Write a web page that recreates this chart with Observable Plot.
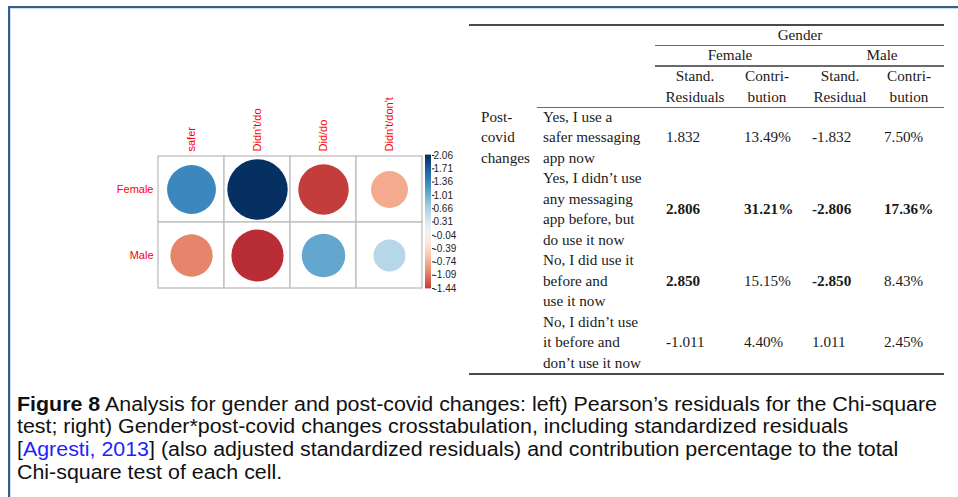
<!DOCTYPE html>
<html>
<head>
<meta charset="utf-8">
<script src="https://cdn.jsdelivr.net/npm/d3@7"></script>
<script src="https://cdn.jsdelivr.net/npm/@observablehq/plot@0.6"></script>
<style>
  html, body { margin: 0; padding: 0; background: #fff; }
  #page { position: relative; width: 958px; height: 497px; overflow: hidden; background: #fff; }
  .frame-top { position: absolute; left: 8px; top: 6px; width: 960px; height: 2px; background: #3b5c88; }
  .frame-top2 { position: absolute; left: 10px; top: 8px; width: 960px; height: 1px; background: #cfdcec; }
  .frame-left { position: absolute; left: 8px; top: 6px; width: 2px; height: 500px; background: #3b5c88; }
  .frame-left2 { position: absolute; left: 10px; top: 8px; width: 1px; height: 500px; background: #cfdcec; }
  .abs { position: absolute; white-space: nowrap; }
  .tbl { font-family: "Liberation Serif", "Times New Roman", serif; font-size: 15.2px; color: #1a1a1a; }
  .rule { position: absolute; }
  .cap { font-family: "Liberation Sans", Arial, sans-serif; color: #111; font-size: 19.5px; transform-origin: 0 50%; }
  .plotsvg { position: absolute; left: 0; top: 0; }
</style>
</head>
<body>
<div id="page">
  <div class="frame-top"></div><div class="frame-top2"></div>
  <div class="frame-left"></div><div class="frame-left2"></div>
</div>
<script>
// ---------- Corrplot data (Pearson's residuals) ----------
const columns = ["safer", "Didn't/do", "Did/do", "Didn't/don't"];
const rows = ["Female", "Male"];
const femaleResiduals = [1.35, 2.06, -1.44, -0.77];
const maleResiduals = [-1.01, -1.54, 1.07, 0.58];
const colorbarTicks = [2.06, 1.71, 1.36, 1.01, 0.66, 0.31, -0.04, -0.39, -0.74, -1.09, -1.44];

// ---------- Table data ----------
const rowHeader = ["Post-", "covid", "changes"];
const changeLabels = [
  ["Yes, I use a", "safer messaging", "app now"],
  ["Yes, I didn\u2019t use", "any messaging", "app before, but", "do use it now"],
  ["No, I did use it", "before and", "use it now"],
  ["No, I didn\u2019t use", "it before and", "don\u2019t use it now"]
];
const femaleStdResid = ["1.832", "2.806", "2.850", "-1.011"];
const femaleContribution = ["13.49%", "31.21%", "15.15%", "4.40%"];
const maleStdResid = ["-1.832", "-2.806", "-2.850", "1.011"];
const maleContribution = ["7.50%", "17.36%", "8.43%", "2.45%"];
const boldStdResid = [false, true, true, false];
const boldContribution = [false, true, false, false];
const genderHeader = "Gender";
const genderGroups = ["Female", "Male"];
const subHeaders = [["Stand.", "Residuals"], ["Contri-", "bution"], ["Stand.", "Residual"], ["Contri-", "bution"]];

// ---------- Caption ----------
const captionLines = [
  [{t: "Figure 8", b: true}, {t: " Analysis for gender and post-covid changes: left) Pearson\u2019s residuals for the Chi-square"}],
  [{t: "test; right) Gender*post-covid changes crosstabulation, including standardized residuals"}],
  [{t: "["}, {t: "Agresti, 2013", c: "#1f1fff"}, {t: "] (also adjusted standardized residuals) and contribution percentage to the total"}],
  [{t: "Chi-square test of each cell."}]
];

const page = document.getElementById("page");

// ---------- Corrplot ----------
const cells = [];
rows.forEach((r, i) => {
  const vals = i === 0 ? femaleResiduals : maleResiduals;
  columns.forEach((c, j) => cells.push({row: r, col: c, value: vals[j]}));
});

const colorScale = {type: "linear", domain: [-2.06, 2.06], scheme: "RdBu"};

const corr = Plot.plot({
  width: 440, height: 300,
  marginLeft: 158, marginRight: 18, marginTop: 155, marginBottom: 12,
  style: {background: "transparent", fontFamily: "Liberation Sans, Arial, sans-serif"},
  x: {domain: columns, padding: 0},
  y: {domain: rows, padding: 0},
  r: {type: "sqrt", domain: [0, 2.06], range: [0, 30.2]},
  color: colorScale,
  marks: [
    Plot.cell(cells, {x: "col", y: "row", fill: "white", stroke: "#bebebe", strokeWidth: 1.3}),
    Plot.dot(cells, {x: "col", y: "row", r: d => Math.abs(d.value), fill: "value", stroke: "none"}),
    Plot.axisX({anchor: "top", tickRotate: -90, tickSize: 0, tickPadding: 4, color: "red", fontSize: 11, label: null}),
    Plot.axisY({anchor: "left", tickSize: 0, tickPadding: 5, color: "red", fontSize: 11, label: null})
  ]
});
corr.classList.add("plotsvg");
page.appendChild(corr);

// ---------- Colour bar ----------
const lo = colorbarTicks[colorbarTicks.length - 1], hi = colorbarTicks[0];
const nSlices = 140;
const slices = d3.range(nSlices).map(i => {
  const a = lo + (hi - lo) * i / nSlices, b = lo + (hi - lo) * (i + 1) / nSlices;
  return {a, b, m: (a + b) / 2};
});
const bar = Plot.plot({
  width: 470, height: 300,
  marginLeft: 425, marginRight: 39, marginTop: 155, marginBottom: 12,
  style: {background: "transparent", fontFamily: "Liberation Sans, Arial, sans-serif"},
  x: {domain: [0, 1], axis: null},
  y: {domain: [lo, hi]},
  color: colorScale,
  marks: [
    Plot.rect(slices, {x1: () => 0, x2: () => 1, y1: "a", y2: "b", fill: "m", insetTop: -0.4, insetBottom: -0.4}),
    Plot.axisY({anchor: "right", ticks: colorbarTicks, tickFormat: d => d.toFixed(2), tickSize: 2.5, tickPadding: -0.5, fontSize: 10, color: "#222", label: null})
  ]
});
bar.classList.add("plotsvg");
page.appendChild(bar);

// ---------- Table ----------
const lineH = 20.5, firstLine = 117;
function put(text, x, yc, opts = {}) {
  const d = document.createElement("div");
  d.className = "abs tbl";
  d.textContent = text;
  d.style.lineHeight = lineH + "px";
  d.style.top = (yc - lineH / 2) + "px";
  d.style.left = x + "px";
  if (opts.anchor === "middle") d.style.transform = "translateX(-50%)";
  if (opts.bold) d.style.fontWeight = "bold";
  page.appendChild(d);
}
function rule(x1, x2, y, h, color) {
  const d = document.createElement("div");
  d.className = "rule";
  d.style.left = x1 + "px"; d.style.width = (x2 - x1) + "px";
  d.style.top = (y - h / 2) + "px"; d.style.height = h + "px";
  d.style.background = color;
  page.appendChild(d);
}
rule(469, 944, 25, 2, "#4a4a4a");
rule(655, 944, 45.5, 1.4, "#6a6a6a");
rule(655, 944, 66, 1.4, "#6a6a6a");
rule(537, 944, 107.5, 1.4, "#6a6a6a");
rule(469, 944, 374, 2, "#4a4a4a");

put(genderHeader, 800, 35, {anchor: "middle"});
put(genderGroups[0], 730, 55.5, {anchor: "middle"});
put(genderGroups[1], 882, 55.5, {anchor: "middle"});
const headCenters = [695, 767, 840, 909];
subHeaders.forEach((h, i) => {
  put(h[0], headCenters[i], 76.5, {anchor: "middle"});
  put(h[1], headCenters[i], 97, {anchor: "middle"});
});
rowHeader.forEach((t, i) => put(t, 481, firstLine + i * lineH));
const colX = [666, 744, 812, 884];
let li = 0;
changeLabels.forEach((lines, r) => {
  lines.forEach((t, k) => put(t, 543, firstLine + (li + k) * lineH));
  const yc = firstLine + (li + (lines.length - 1) / 2) * lineH;
  put(femaleStdResid[r], colX[0], yc, {bold: boldStdResid[r]});
  put(femaleContribution[r], colX[1], yc, {bold: boldContribution[r]});
  put(maleStdResid[r], colX[2], yc, {bold: boldStdResid[r]});
  put(maleContribution[r], colX[3], yc, {bold: boldContribution[r]});
  li += lines.length;
});

// ---------- Caption ----------
const capLineH = 22.6, capTop = 404, capLeft = 17, capTarget = 920;
const capDivs = captionLines.map((parts, i) => {
  const d = document.createElement("div");
  d.className = "abs cap";
  d.style.left = capLeft + "px";
  d.style.lineHeight = capLineH + "px";
  d.style.top = (capTop + i * capLineH - capLineH / 2) + "px";
  parts.forEach(p => {
    const s = document.createElement("span");
    s.textContent = p.t;
    if (p.b) s.style.fontWeight = "bold";
    if (p.c) s.style.color = p.c;
    d.appendChild(s);
  });
  page.appendChild(d);
  return d;
});
const w0 = capDivs[0].getBoundingClientRect().width;
const sx = capTarget / w0;
capDivs.forEach(d => d.style.transform = `scaleX(${sx})`);
</script>
</body>
</html>
